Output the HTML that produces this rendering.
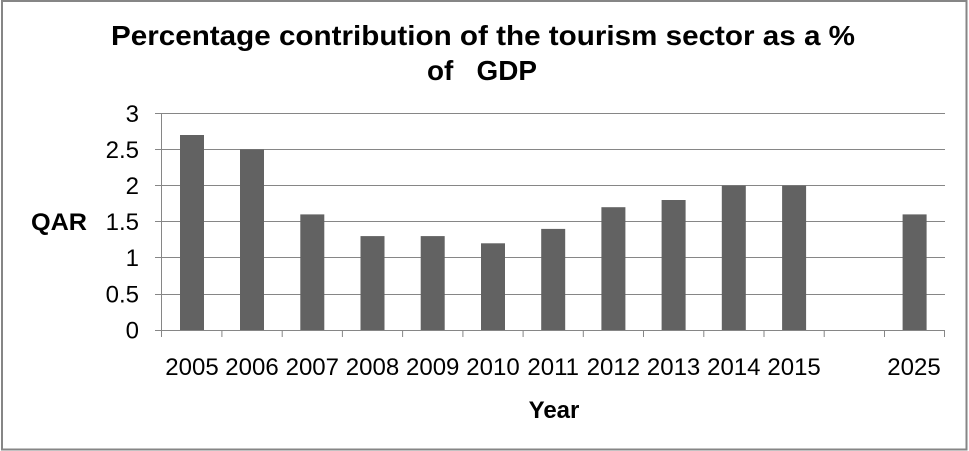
<!DOCTYPE html>
<html>
<head>
<meta charset="utf-8">
<style>
  html, body { margin:0; padding:0; background:#fff; }
  body { width:969px; height:451px; overflow:hidden; }
  svg { display:block; }
  text { font-family: "Liberation Sans", Arial, sans-serif; fill:#000; }
</style>
</head>
<body>
<svg width="969" height="451" viewBox="0 0 969 451" xmlns="http://www.w3.org/2000/svg">
  <rect x="0" y="0" width="969" height="451" fill="#fff"/>
  <!-- outer border -->
  <rect x="2" y="1" width="964.5" height="448.5" fill="none" stroke="#868686" stroke-width="2"/>

  <!-- title -->
  <text x="483" y="45" font-size="28" font-weight="bold" text-anchor="middle" textLength="744" lengthAdjust="spacingAndGlyphs">Percentage contribution of the tourism sector as a %</text>
  <text x="482" y="80" font-size="28" font-weight="bold" text-anchor="middle" style="white-space:pre" textLength="110" lengthAdjust="spacingAndGlyphs">of   GDP</text>

  <!-- gridlines -->
  <g stroke="#868686" stroke-width="1">
    <line x1="155" y1="113.5" x2="945" y2="113.5"/>
    <line x1="155" y1="149.5" x2="945" y2="149.5"/>
    <line x1="155" y1="185.5" x2="945" y2="185.5"/>
    <line x1="155" y1="221.5" x2="945" y2="221.5"/>
    <line x1="155" y1="257.5" x2="945" y2="257.5"/>
    <line x1="155" y1="294.5" x2="945" y2="294.5"/>
    <line x1="155" y1="330.5" x2="945" y2="330.5"/>
    <!-- y axis -->
    <line x1="161.5" y1="113" x2="161.5" y2="337"/>
    <!-- x ticks -->
    <line x1="221.9" y1="330" x2="221.9" y2="337"/>
    <line x1="282.2" y1="330" x2="282.2" y2="337"/>
    <line x1="342.4" y1="330" x2="342.4" y2="337"/>
    <line x1="402.6" y1="330" x2="402.6" y2="337"/>
    <line x1="462.9" y1="330" x2="462.9" y2="337"/>
    <line x1="523.1" y1="330" x2="523.1" y2="337"/>
    <line x1="583.3" y1="330" x2="583.3" y2="337"/>
    <line x1="643.5" y1="330" x2="643.5" y2="337"/>
    <line x1="703.8" y1="330" x2="703.8" y2="337"/>
    <line x1="764.0" y1="330" x2="764.0" y2="337"/>
    <line x1="824.2" y1="330" x2="824.2" y2="337"/>
    <line x1="884.5" y1="330" x2="884.5" y2="337"/>
    <line x1="944.5" y1="330" x2="944.5" y2="337"/>
  </g>

  <!-- bars -->
  <g fill="#626262">
    <rect x="180" y="135" width="24" height="195"/>
    <rect x="240" y="149.4" width="24" height="180.6"/>
    <rect x="300.3" y="214.4" width="24" height="115.6"/>
    <rect x="360.5" y="236.1" width="24" height="93.9"/>
    <rect x="420.7" y="236.1" width="24" height="93.9"/>
    <rect x="481" y="243.3" width="24" height="86.7"/>
    <rect x="541.2" y="228.9" width="24" height="101.1"/>
    <rect x="601.4" y="207.2" width="24" height="122.8"/>
    <rect x="661.6" y="200" width="24" height="130"/>
    <rect x="721.8" y="185.6" width="24" height="144.4"/>
    <rect x="782.1" y="185.6" width="24" height="144.4"/>
    <rect x="902.6" y="214.4" width="24" height="115.6"/>
  </g>

  <!-- y labels -->
  <g font-size="24" text-anchor="end">
    <text x="139" y="122">3</text>
    <text x="139" y="158">2.5</text>
    <text x="139" y="194">2</text>
    <text x="139" y="230">1.5</text>
    <text x="139" y="266">1</text>
    <text x="139" y="302.5">0.5</text>
    <text x="139" y="338.5">0</text>
  </g>

  <!-- x labels -->
  <g font-size="24" text-anchor="middle">
    <text x="192" y="375">2005</text>
    <text x="252" y="375">2006</text>
    <text x="312.3" y="375">2007</text>
    <text x="372.5" y="375">2008</text>
    <text x="432.7" y="375">2009</text>
    <text x="493" y="375">2010</text>
    <text x="553.2" y="375">2011</text>
    <text x="613.4" y="375">2012</text>
    <text x="673.6" y="375">2013</text>
    <text x="733.8" y="375">2014</text>
    <text x="794.1" y="375">2015</text>
    <text x="914" y="375">2025</text>
  </g>

  <!-- axis titles -->
  <text x="31" y="230" font-size="24" font-weight="bold" textLength="56" lengthAdjust="spacingAndGlyphs">QAR</text>
  <text x="554" y="418" font-size="24" font-weight="bold" text-anchor="middle">Year</text>
</svg>
</body>
</html>
